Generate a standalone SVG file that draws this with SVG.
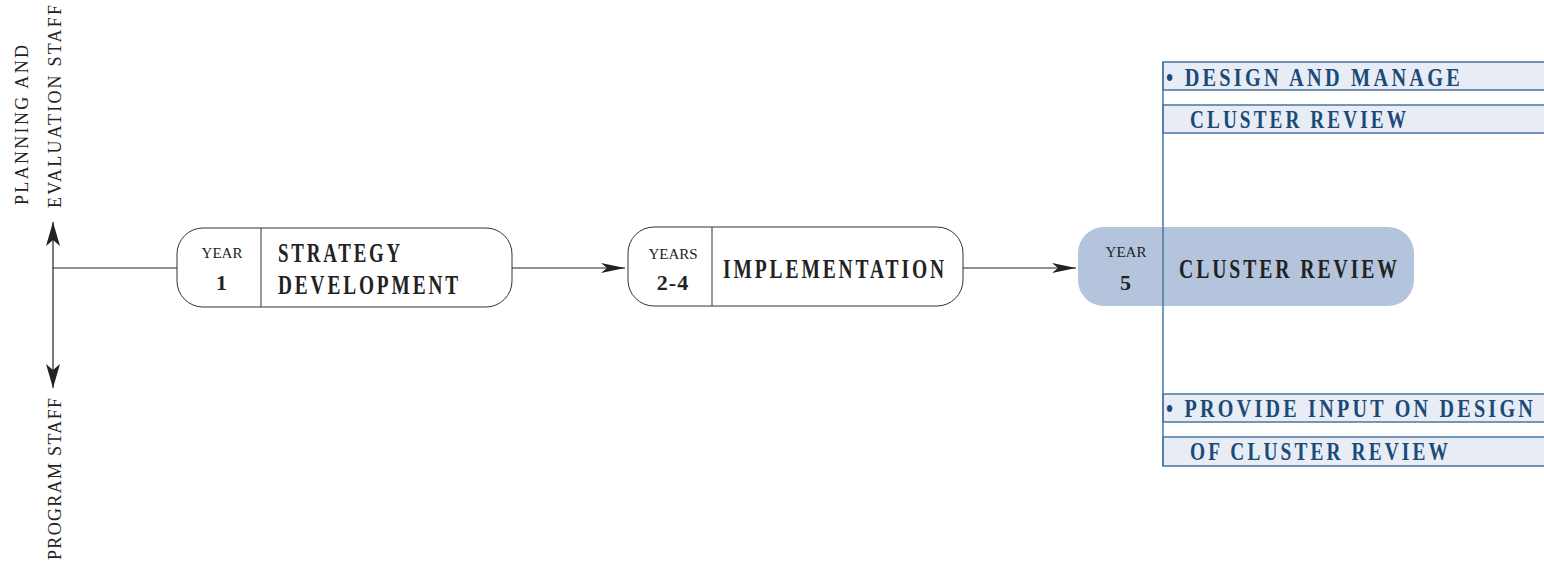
<svg xmlns="http://www.w3.org/2000/svg" width="1544" height="563" viewBox="0 0 1544 563">
  <defs>
    <marker id="arrow" viewBox="0 0 24 10" refX="24" refY="5" markerWidth="24" markerHeight="10" markerUnits="userSpaceOnUse" orient="auto">
      <path d="M0,0 L24,5 L0,10 L6,5 Z" fill="#222"/>
    </marker>
    <marker id="arrowV" viewBox="0 0 24 14" refX="24" refY="7" markerWidth="24" markerHeight="14" markerUnits="userSpaceOnUse" orient="auto-start-reverse">
      <path d="M0,0 L24,7 L0,14 L6,7 Z" fill="#222"/>
    </marker>
    <style>
      .box { fill: #fff; stroke: #333; stroke-width: 1; }
      .boxHi { fill: #b4c4dc; stroke: none; }
      .div { stroke: #333; stroke-width: 1; }
      .conn { stroke: #222; stroke-width: 1.2; fill: none; }
      .t { font-family: "Liberation Serif", "DejaVu Serif", serif; font-weight: bold; fill: #222; font-size: 27px; letter-spacing: 4px; }
      .small { font-family: "Liberation Serif", "DejaVu Serif", serif; font-size: 15px; fill: #222; }
      .num { font-family: "Liberation Serif", "DejaVu Serif", serif; font-weight: bold; font-size: 22px; fill: #222; letter-spacing: 1px; }
      .side { font-family: "Liberation Serif", "DejaVu Serif", serif; font-size: 18px; fill: #222; }
      .band { fill: #e8edf5; stroke: #4a76a0; stroke-width: 1.5; }
      .bandText { font-family: "Liberation Serif", "DejaVu Serif", serif; font-weight: bold; font-size: 25px; fill: #1b4a78; letter-spacing: 4px; }
    </style>
  </defs>

  <!-- staff axis and side labels -->
  <g id="staff-axis">
    <line class="conn" x1="53" y1="222" x2="53" y2="388" marker-start="url(#arrowV)" marker-end="url(#arrowV)"/>
    <text class="side" transform="translate(28,205) rotate(-90)" textLength="160" lengthAdjust="spacing">PLANNING AND</text>
    <text class="side" transform="translate(61,208) rotate(-90)" textLength="203" lengthAdjust="spacing">EVALUATION STAFF</text>
    <text class="side" transform="translate(61,560) rotate(-90)" textLength="162" lengthAdjust="spacing">PROGRAM STAFF</text>
  </g>

  <!-- connectors -->
  <g id="connectors">
    <line class="conn" x1="53" y1="268" x2="177" y2="268"/>
    <line class="conn" x1="512" y1="268" x2="625" y2="268" marker-end="url(#arrow)"/>
    <line class="conn" x1="963" y1="268" x2="1076" y2="268" marker-end="url(#arrow)"/>
  </g>

  <!-- stage 1 -->
  <g id="stage-strategy">
    <rect class="box" x="177" y="228" width="335" height="79" rx="26"/>
    <line class="div" x1="261" y1="228" x2="261" y2="307"/>
    <text class="small" x="222" y="258" text-anchor="middle">YEAR</text>
    <text class="num" x="222" y="290" text-anchor="middle">1</text>
    <text class="t" x="278" y="262" textLength="125" lengthAdjust="spacingAndGlyphs">STRATEGY</text>
    <text class="t" x="278" y="294" textLength="183" lengthAdjust="spacingAndGlyphs">DEVELOPMENT</text>
  </g>

  <!-- stage 2 -->
  <g id="stage-implementation">
    <rect class="box" x="628" y="227" width="335" height="79" rx="26"/>
    <line class="div" x1="712" y1="227" x2="712" y2="306"/>
    <text class="small" x="673" y="259" text-anchor="middle">YEARS</text>
    <text class="num" x="673" y="290" text-anchor="middle">2-4</text>
    <text class="t" x="723" y="278" textLength="224" lengthAdjust="spacingAndGlyphs">IMPLEMENTATION</text>
  </g>

  <!-- stage 3 -->
  <g id="stage-cluster-review">
    <rect class="boxHi" x="1078" y="227" width="336" height="79" rx="26"/>
    <text class="small" x="1126" y="257" text-anchor="middle">YEAR</text>
    <text class="num" x="1126" y="290" text-anchor="middle">5</text>
    <text class="t" x="1179" y="278" textLength="221" lengthAdjust="spacingAndGlyphs">CLUSTER REVIEW</text>
  </g>

  <!-- role bands -->
  <g id="role-planning">
    <rect class="band" x="1163" y="62" width="390" height="28"/>
    <rect class="band" x="1163" y="105" width="390" height="28"/>
    <text class="bandText" x="1166" y="86" textLength="297" lengthAdjust="spacingAndGlyphs">• DESIGN AND MANAGE</text>
    <text class="bandText" x="1190" y="128" textLength="219" lengthAdjust="spacingAndGlyphs">CLUSTER REVIEW</text>
  </g>
  <g id="role-program">
    <rect class="band" x="1163" y="394" width="390" height="28"/>
    <rect class="band" x="1163" y="437" width="390" height="29"/>
    <text class="bandText" x="1166" y="417" textLength="370" lengthAdjust="spacingAndGlyphs">• PROVIDE INPUT ON DESIGN</text>
    <text class="bandText" x="1190" y="460" textLength="261" lengthAdjust="spacingAndGlyphs">OF CLUSTER REVIEW</text>
  </g>
  <line id="role-divider" x1="1163" y1="62" x2="1163" y2="466" stroke="#4a76a0" stroke-width="1.5"/>
</svg>
